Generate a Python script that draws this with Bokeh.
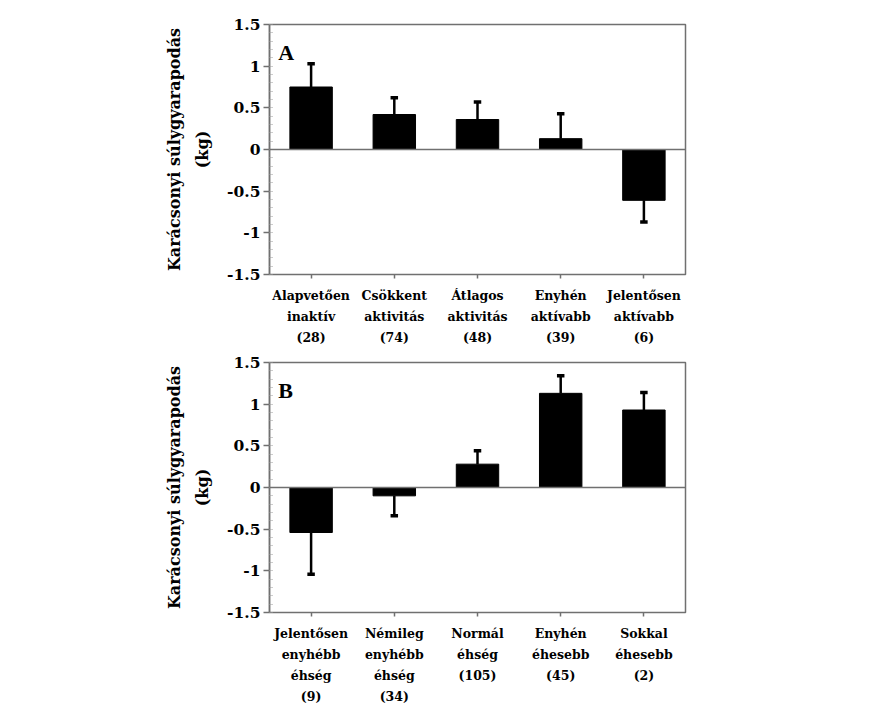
from bokeh.plotting import figure
from bokeh.models import FixedTicker, Span, Label
from bokeh.layouts import column
from bokeh.embed import file_html
from bokeh.resources import INLINE

a_labels = ["Alapvetően\ninaktív\n(28)", "Csökkent\naktivitás\n(74)", "Átlagos\naktivitás\n(48)",
            "Enyhén\naktívabb\n(39)", "Jelentősen\naktívabb\n(6)"]
a_means = [0.75, 0.42, 0.36, 0.13, -0.61]
a_errs = [0.28, 0.20, 0.21, 0.30, 0.26]

b_labels = ["Jelentősen\nenyhébb\néhség\n(9)", "Némileg\nenyhébb\néhség\n(34)", "Normál\néhség\n(105)",
            "Enyhén\néhesebb\n(45)", "Sokkal\néhesebb\n(2)"]
b_means = [-0.54, -0.10, 0.28, 1.13, 0.93]
b_errs = [0.50, 0.24, 0.16, 0.21, 0.21]

y_ticks = [-1.5, -1, -0.5, 0, 0.5, 1, 1.5]
y_tick_labels = ["-1.5", "-1", "-0.5", "0", "0.5", "1", "1.5"]
y_minor = [round(-1.5 + 0.1 * i, 2) for i in range(31)]
y_title = "Karácsonyi súlygyarapodás\n(kg)"

AXFONT = "DejaVu Serif"
GREY = "#707070"


def make_panel(letter, labels, means, errs, height, btop, bbottom):
    xs = list(range(len(labels)))
    p = figure(width=861, height=height, x_range=(-0.5, 4.5), y_range=(-1.5, 1.5),
               output_backend="svg", toolbar_location=None,
               min_border_left=269, min_border_right=176,
               min_border_top=btop, min_border_bottom=bbottom)
    p.xgrid.visible = False
    p.ygrid.visible = False
    p.outline_line_color = GREY
    p.outline_line_width = 1.5
    p.background_fill_color = "white"
    p.border_fill_color = "white"

    p.add_layout(Span(location=0, dimension="width", line_color=GREY, line_width=1.5))

    p.vbar(x=xs, top=means, bottom=0, width=0.51, fill_color="black", line_color="black")
    ends = [m + e if m >= 0 else m - e for m, e in zip(means, errs)]
    p.segment(x0=xs, y0=means, x1=xs, y1=ends, line_color="black", line_width=2.5)
    p.segment(x0=[x - 0.045 for x in xs], x1=[x + 0.045 for x in xs], y0=ends, y1=ends,
              line_color="black", line_width=3.5)

    ya = p.yaxis[0]
    ya.ticker = FixedTicker(ticks=y_ticks, minor_ticks=y_minor)
    ya.major_label_overrides = {t: l for t, l in zip(y_ticks, y_tick_labels)}
    ya.axis_line_color = GREY
    ya.axis_line_width = 1.5
    ya.major_tick_out = 6
    ya.major_tick_in = 0
    ya.major_tick_line_color = GREY
    ya.major_tick_line_width = 1.5
    ya.minor_tick_in = 3
    ya.minor_tick_out = 0
    ya.minor_tick_line_color = "#9a9a9a"
    ya.minor_tick_line_dash = "1 1"
    ya.major_label_text_font = AXFONT
    ya.major_label_text_font_style = "bold"
    ya.major_label_text_font_size = "15.5px"
    ya.major_label_text_color = "black"
    ya.major_label_standoff = 3
    ya.axis_label = y_title
    ya.axis_label_text_font = AXFONT
    ya.axis_label_text_font_style = "bold"
    ya.axis_label_text_font_size = "16px"
    ya.axis_label_text_line_height = 1.5
    ya.axis_label_text_color = "black"
    ya.axis_label_standoff = 12

    xa = p.xaxis[0]
    xa.ticker = FixedTicker(ticks=xs, minor_ticks=[])
    xa.major_label_overrides = {x: l for x, l in zip(xs, labels)}
    xa.axis_line_color = None
    xa.major_tick_out = 4
    xa.major_tick_in = 0
    xa.major_tick_line_color = GREY
    xa.major_tick_line_width = 1.5
    xa.minor_tick_out = 0
    xa.minor_tick_in = 0
    xa.major_label_text_font = AXFONT
    xa.major_label_text_font_style = "bold"
    xa.major_label_text_font_size = "12.5px"
    xa.major_label_text_line_height = 1.4
    xa.major_label_text_color = "black"
    xa.major_label_standoff = 9

    p.add_layout(Label(x=-0.395, y=1.16, text=letter, text_font="Liberation Serif",
                       text_font_style="bold", text_font_size="22px", text_color="black",
                       text_baseline="alphabetic"))
    return p


p1 = make_panel("A", a_labels, a_means, a_errs, 350, 24, 76)
p2 = make_panel("B", b_labels, b_means, b_errs, 365, 12, 103)
layout = column(p1, p2)

open("out.html", "w").write(file_html(layout, INLINE))
